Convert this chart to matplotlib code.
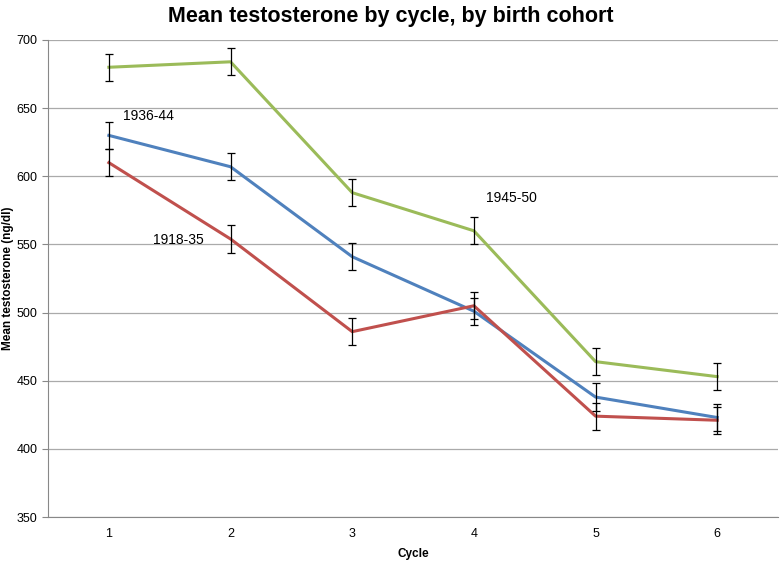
import matplotlib.pyplot as plt

plt.rcParams['font.family'] = ['Liberation Sans', 'DejaVu Sans']

cycles = [1, 2, 3, 4, 5, 6]
cohort_1936 = [630, 607, 541, 501, 438, 423]
cohort_1918 = [610, 554, 486, 505, 424, 421]
cohort_1945 = [680, 684, 588, 560, 464, 453]
err_1936 = [10, 10, 10, 10, 10, 10]
err_1918 = [10, 10, 10, 10, 10, 10]
err_1945 = [10, 10, 10, 10, 10, 10]

fig = plt.figure(figsize=(7.82, 5.61), dpi=100)
ax = fig.add_axes([0.0614, 0.0784, 0.9336, 0.8503])

series = [
    (cohort_1936, err_1936, '#4F81BD'),
    (cohort_1918, err_1918, '#C0504D'),
    (cohort_1945, err_1945, '#9BBB59'),
]
for vals, errs, col in series:
    ax.plot(cycles, vals, color=col, lw=2.2, zorder=3)
    ax.errorbar(cycles, vals, yerr=errs, fmt='none', ecolor='black',
                elinewidth=0.9, capsize=3, capthick=0.9, zorder=4)

# подписи когорт прямо на графике
ax.text(1.12, 644, '1936-44', fontsize=10, va='center')
ax.text(1.36, 553, '1918-35', fontsize=10, va='center')
ax.text(4.10, 584, '1945-50', fontsize=10, va='center')

ax.set_xlim(0.5, 6.5)
ax.set_ylim(350, 700)
ax.set_xticks(cycles)
ax.set_yticks(range(350, 701, 50))
ax.tick_params(axis='x', length=0, labelsize=9, pad=8)
ax.tick_params(axis='y', length=4, color='#888888', labelsize=9)
ax.grid(axis='y', color='#AAAAAA', lw=0.9)
ax.set_axisbelow(True)
for s in ['top', 'right']:
    ax.spines[s].set_visible(False)
for s in ['left', 'bottom']:
    ax.spines[s].set_color('#888888')

fig.suptitle('Mean testosterone by cycle, by birth cohort', fontsize=15.5,
             fontweight='bold', x=0.5, y=0.99, va='top')
ax.set_xlabel('Cycle', fontsize=8.5, fontweight='bold', labelpad=6)
ax.set_ylabel('Mean testosterone (ng/dl)', fontsize=8.5, fontweight='bold')
ax.yaxis.set_label_coords(-0.046, 0.5)

fig.savefig('out.png', dpi=100)
